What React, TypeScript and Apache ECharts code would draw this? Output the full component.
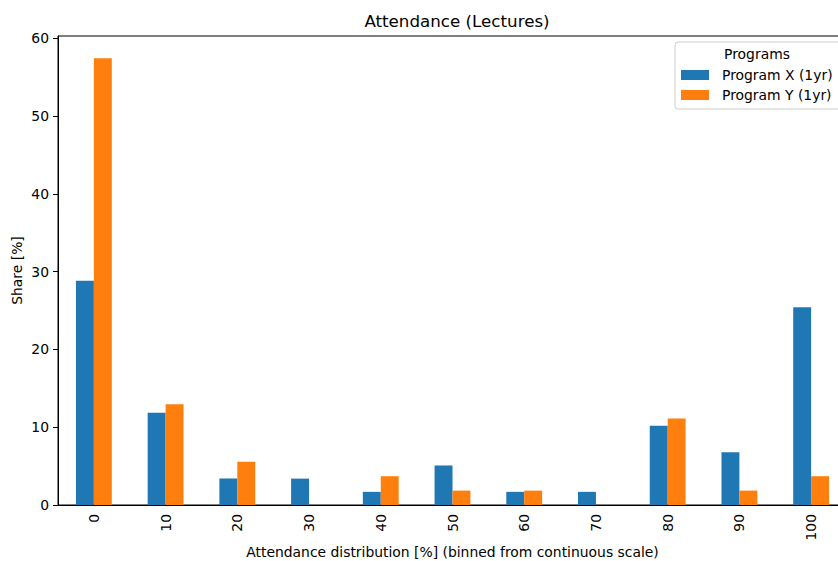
import React, { useEffect, useRef } from "react";
import * as echarts from "echarts";

const categories = ["0", "10", "20", "30", "40", "50", "60", "70", "80", "90", "100"];
const programX = [28.81, 11.86, 3.39, 3.39, 1.69, 5.08, 1.69, 1.69, 10.17, 6.78, 25.42];
const programY = [57.41, 12.96, 5.56, 0, 3.7, 1.85, 1.85, 0, 11.11, 1.85, 3.7];
const yTicks = [0, 10, 20, 30, 40, 50, 60];
const seriesNames = ["Program X (1yr)", "Program Y (1yr)"];

const FONT = "DejaVu Sans";
const FS = 13.9;

export default function App() {
  const ref = useRef<HTMLDivElement>(null);
  useEffect(() => {
    if (!ref.current) return;
    const chart = echarts.init(ref.current, null, { renderer: "svg" });
    chart.setOption({
      animation: false,
      backgroundColor: "#ffffff",
      textStyle: { fontFamily: FONT, color: "#000" },
      title: {
        text: "Attendance (Lectures)",
        left: 452,
        textAlign: "center",
        top: 7,
        textStyle: { fontFamily: FONT, fontSize: 16.7, fontWeight: "normal", color: "#000" },
      },
      grid: {
        left: 58,
        top: 36,
        bottom: 56,
        width: 789,
        show: true,
        borderColor: "#000",
        borderWidth: 1,
        containLabel: false,
        outerBoundsMode: "none",
      },
      legend: {
        orient: "vertical",
        left: 675,
        top: 42,
        data: seriesNames,
        icon: "rect",
        itemWidth: 28,
        itemHeight: 10,
        itemGap: 6,
        itemStyle: { borderWidth: 0 },
        padding: [26, 34, 7, 6],
        backgroundColor: "#ffffff",
        borderColor: "#cccccc",
        borderWidth: 1,
        borderRadius: 3,
        textStyle: { fontFamily: FONT, fontSize: FS, color: "#000", padding: [0, 0, 0, 8] },
      },
      graphic: [
        {
          type: "text",
          x: 757,
          y: 54,
          z: 100,
          style: {
            text: "Programs",
            fontFamily: FONT,
            fontSize: FS,
            fill: "#000",
            textAlign: "center",
            textVerticalAlign: "middle",
          },
        },
      ],
      xAxis: {
        type: "category",
        data: categories,
        boundaryGap: true,
        name: "Attendance distribution [%] (binned from continuous scale)",
        nameLocation: "middle",
        nameGap: 40,
        nameMoveOverlap: false,
        nameTextStyle: { fontFamily: FONT, fontSize: FS, color: "#000" },
        axisLine: { lineStyle: { color: "#000", width: 1 } },
        axisTick: { alignWithLabel: true, length: 5, lineStyle: { color: "#000" } },
        axisLabel: { rotate: 90, margin: 9, fontFamily: FONT, fontSize: FS, color: "#000" },
        splitLine: { show: false },
      },
      yAxis: {
        type: "value",
        min: 0,
        max: 60.28,
        interval: 10,
        name: "Share [%]",
        nameLocation: "middle",
        nameGap: 34,
        nameMoveOverlap: false,
        nameTextStyle: { fontFamily: FONT, fontSize: FS, color: "#000" },
        axisLine: { show: true, lineStyle: { color: "#000", width: 1 } },
        axisTick: { show: true, length: 5, lineStyle: { color: "#000" }, customValues: yTicks },
        axisLabel: { margin: 9, fontFamily: FONT, fontSize: FS, color: "#000", customValues: yTicks },
        splitLine: { show: false },
      },
      series: [
        {
          name: seriesNames[0],
          type: "bar",
          data: programX,
          barWidth: "25%",
          barGap: "0%",
          itemStyle: { color: "#1f77b4" },
        },
        {
          name: seriesNames[1],
          type: "bar",
          data: programY,
          barWidth: "25%",
          barGap: "0%",
          itemStyle: { color: "#ff7f0e" },
        },
      ],
    });
    return () => chart.dispose();
  }, []);
  return (
    <div
      style={{
        position: "fixed",
        left: 0,
        top: 0,
        width: 838,
        height: 561,
        overflow: "hidden",
        background: "#fff",
      }}
    >
      <div ref={ref} style={{ width: 900, height: 561 }} />
    </div>
  );
}
